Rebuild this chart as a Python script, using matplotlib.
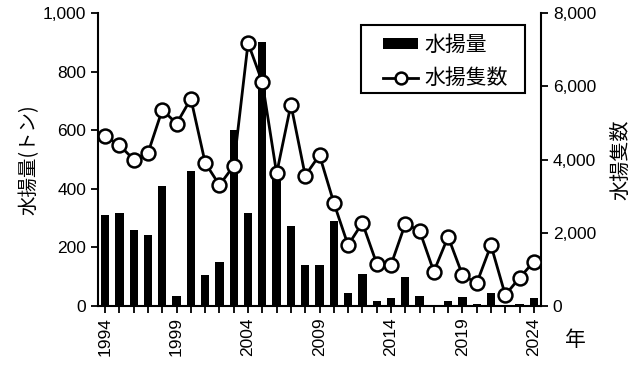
import matplotlib
matplotlib.use("Agg")
import matplotlib.pyplot as plt
from matplotlib.patches import Rectangle
import numpy as np

plt.rcParams['font.family'] = ['Liberation Sans', 'Noto Sans CJK JP', 'DejaVu Sans']

years = list(range(1994, 2025))
catch_t = [309, 318, 259, 243, 410, 34, 462, 105, 150, 600, 318, 902, 450, 273, 139, 139,
           289, 43, 109, 17, 26, 98, 33, 2, 18, 30, 6, 43, 4, 8, 27]
boats = [4640, 4390, 4000, 4180, 5360, 4980, 5660, 3910, 3300, 3830, 7180, 6110, 3620, 5500, 3560, 4120,
         2820, 1660, 2270, 1160, 1120, 2240, 2060, 940, 1890, 850, 620, 1660, 300, 770, 1210]
xtick_labels = [str(y) for y in range(1994, 2025, 5)]

W, H = 640, 367
fig = plt.figure(figsize=(6.4, 3.67), dpi=100)
ax = fig.add_axes([98/W, 1-306/H, (541-98)/W, (306-13)/H])
ax2 = ax.twinx()

bars = ax.bar(years, catch_t, width=0.58, color='black', label='水揚量', zorder=2)
ax.set_xlim(1993.5, 2024.5)
ax.set_ylim(0, 1000)
ax.set_yticks(range(0, 1001, 200))
ax.set_yticklabels(['0', '200', '400', '600', '800', '1,000'])
ax.set_xticks(years)
ax.set_xticklabels([str(y) if (y - 1994) % 5 == 0 else '' for y in years], rotation=90)

line, = ax2.plot(years, boats, color='black', lw=2, marker='o', markersize=10,
                 markerfacecolor='white', markeredgecolor='black', markeredgewidth=1.8,
                 label='水揚隻数', zorder=3)
ax2.set_ylim(0, 8000)
ax2.set_yticks(range(0, 8001, 2000))
ax2.set_yticklabels(['0', '2,000', '4,000', '6,000', '8,000'])

for a in (ax, ax2):
    a.spines['top'].set_visible(False)
    for s in a.spines.values():
        s.set_linewidth(1.5)
    a.tick_params(direction='out', length=5, width=1.3, labelsize=12.5)
ax.spines['right'].set_visible(False)
ax2.spines['left'].set_visible(False)
ax2.spines['bottom'].set_visible(False)
ax.tick_params(axis='x', pad=3)

ax.set_ylabel('水揚量(トン)', fontsize=14, family=['Noto Sans CJK JP'], labelpad=2)
ax2.set_ylabel('水揚隻数', fontsize=14.5, family=['Noto Sans CJK JP'], labelpad=10)
fig.text(575/W, 1-340/H, '年', fontsize=15, family=['Noto Sans CJK JP'], ha='center', va='center')

# legend frame
fig.patches.append(Rectangle((361/W, 1-93/H), (525-361)/W, (93-25)/H, transform=fig.transFigure,
                             facecolor='white', edgecolor='black', linewidth=1.5, zorder=5))
leg = fig.legend([bars, line], ['水揚量', '水揚隻数'], loc='center left',
                 bbox_to_anchor=(383/W, 1-61.5/H),
                 prop={'family': 'Noto Sans CJK JP', 'size': 15}, frameon=False,
                 handlelength=1.68, handletextpad=0.3, handleheight=0.4,
                 borderpad=0, labelspacing=0.55, borderaxespad=0, markerscale=0.85)
leg.set_zorder(6)

fig.savefig('out.png', dpi=100)
